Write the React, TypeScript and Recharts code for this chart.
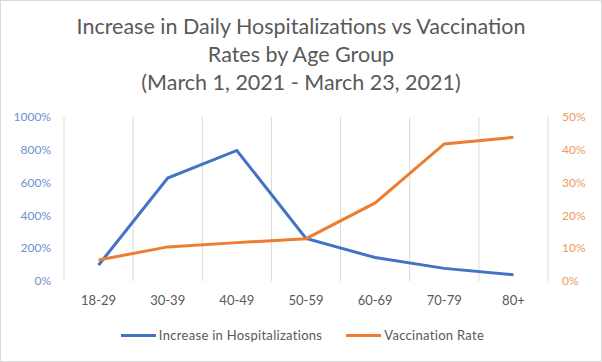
import React from "react";
import {
  LineChart,
  Line,
  XAxis,
  YAxis,
  CartesianGrid,
  Legend,
} from "recharts";

const ageGroups = ["18-29", "30-39", "40-49", "50-59", "60-69", "70-79", "80+"];
const hospitalizationIncrease = [97, 628, 796, 259, 143, 77, 38];
const vaccinationRate = [6.4, 10.4, 11.7, 12.9, 23.8, 41.8, 43.8];
const leftTicks = [0, 200, 400, 600, 800, 1000];
const rightTicks = [0, 10, 20, 30, 40, 50];
const titleLines = [
  "Increase in Daily Hospitalizations vs Vaccination",
  "Rates by Age Group",
  "(March 1, 2021 - March 23, 2021)",
];

const data = ageGroups.map((age, i) => ({
  age,
  hosp: hospitalizationIncrease[i],
  vacc: vaccinationRate[i],
}));

const BLUE = "#4472C4";
const ORANGE = "#ED7D31";
const FONT = "Lato, 'Open Sans', sans-serif";

function LegendContent() {
  const items = [
    { label: "Increase in Hospitalizations", color: BLUE },
    { label: "Vaccination Rate", color: ORANGE },
  ];
  return (
    <div style={{ display: "flex", justifyContent: "center", gap: 24 }}>
      {items.map((it) => (
        <div key={it.label} style={{ display: "flex", alignItems: "center" }}>
          <span
            style={{
              display: "inline-block",
              width: 35,
              height: 3,
              background: it.color,
              marginRight: 3,
            }}
          />
          <span
            style={{
              fontSize: 13,
              letterSpacing: 0.3,
              color: "#595959",
              fontFamily: FONT,
            }}
          >
            {it.label}
          </span>
        </div>
      ))}
    </div>
  );
}

export default function App() {
  return (
    <div
      style={{
        position: "absolute",
        left: 0,
        top: 0,
        width: 602,
        height: 362,
        background: "#fff",
        border: "1px solid #d9d9d9",
        boxSizing: "border-box",
        fontFamily: FONT,
      }}
    >
      <div
        style={{
          position: "absolute",
          top: 11,
          left: 0,
          width: 600,
          textAlign: "center",
          color: "#595959",
          fontSize: 21.5,
          lineHeight: "28px",
        }}
      >
        {titleLines.map((t) => (
          <div key={t}>{t}</div>
        ))}
      </div>
      <LineChart
        width={600}
        height={360}
        data={data}
        margin={{ top: 116, right: 3, bottom: 0, left: 6 }}
        style={{ position: "absolute", left: 0, top: 0 }}
      >
        <CartesianGrid
          horizontal={false}
          stroke="#d9d9d9"
          verticalCoordinatesGenerator={({ offset }: any) =>
            ageGroups
              .map((_, i) => offset.left + (i * offset.width) / ageGroups.length)
              .concat(offset.left + offset.width)
          }
        />
        <XAxis
          dataKey="age"
          scale="band"
          axisLine={false}
          tickLine={false}
          tickSize={0}
          tickMargin={15}
          height={64}
          tick={{ fill: "#595959", fontSize: 13, fontFamily: FONT }}
        />
        <YAxis
          yAxisId="left"
          domain={[0, 1000]}
          ticks={leftTicks}
          axisLine={false}
          tickLine={false}
          tickSize={0}
          tickMargin={13}
          width={57}
          tickFormatter={(v) => `${v}%`}
          tick={{ fill: "#6f8fd0", fontSize: 12, fontFamily: FONT }}
        />
        <YAxis
          yAxisId="right"
          orientation="right"
          domain={[0, 50]}
          ticks={rightTicks}
          axisLine={false}
          tickLine={false}
          tickSize={0}
          tickMargin={14}
          width={50}
          tickFormatter={(v) => `${v}%`}
          tick={{
            fill: "#f0995c",
            fontSize: 12,
            fontFamily: FONT,
            textAnchor: "start",
          }}
        />
        <Legend
          verticalAlign="bottom"
          content={<LegendContent />}
          wrapperStyle={{ bottom: 18 }}
        />
        <Line
          yAxisId="left"
          type="linear"
          dataKey="hosp"
          name="Increase in Hospitalizations"
          stroke={BLUE}
          strokeWidth={3}
          dot={false}
          isAnimationActive={false}
        />
        <Line
          yAxisId="right"
          type="linear"
          dataKey="vacc"
          name="Vaccination Rate"
          stroke={ORANGE}
          strokeWidth={3}
          dot={false}
          isAnimationActive={false}
        />
      </LineChart>
    </div>
  );
}
